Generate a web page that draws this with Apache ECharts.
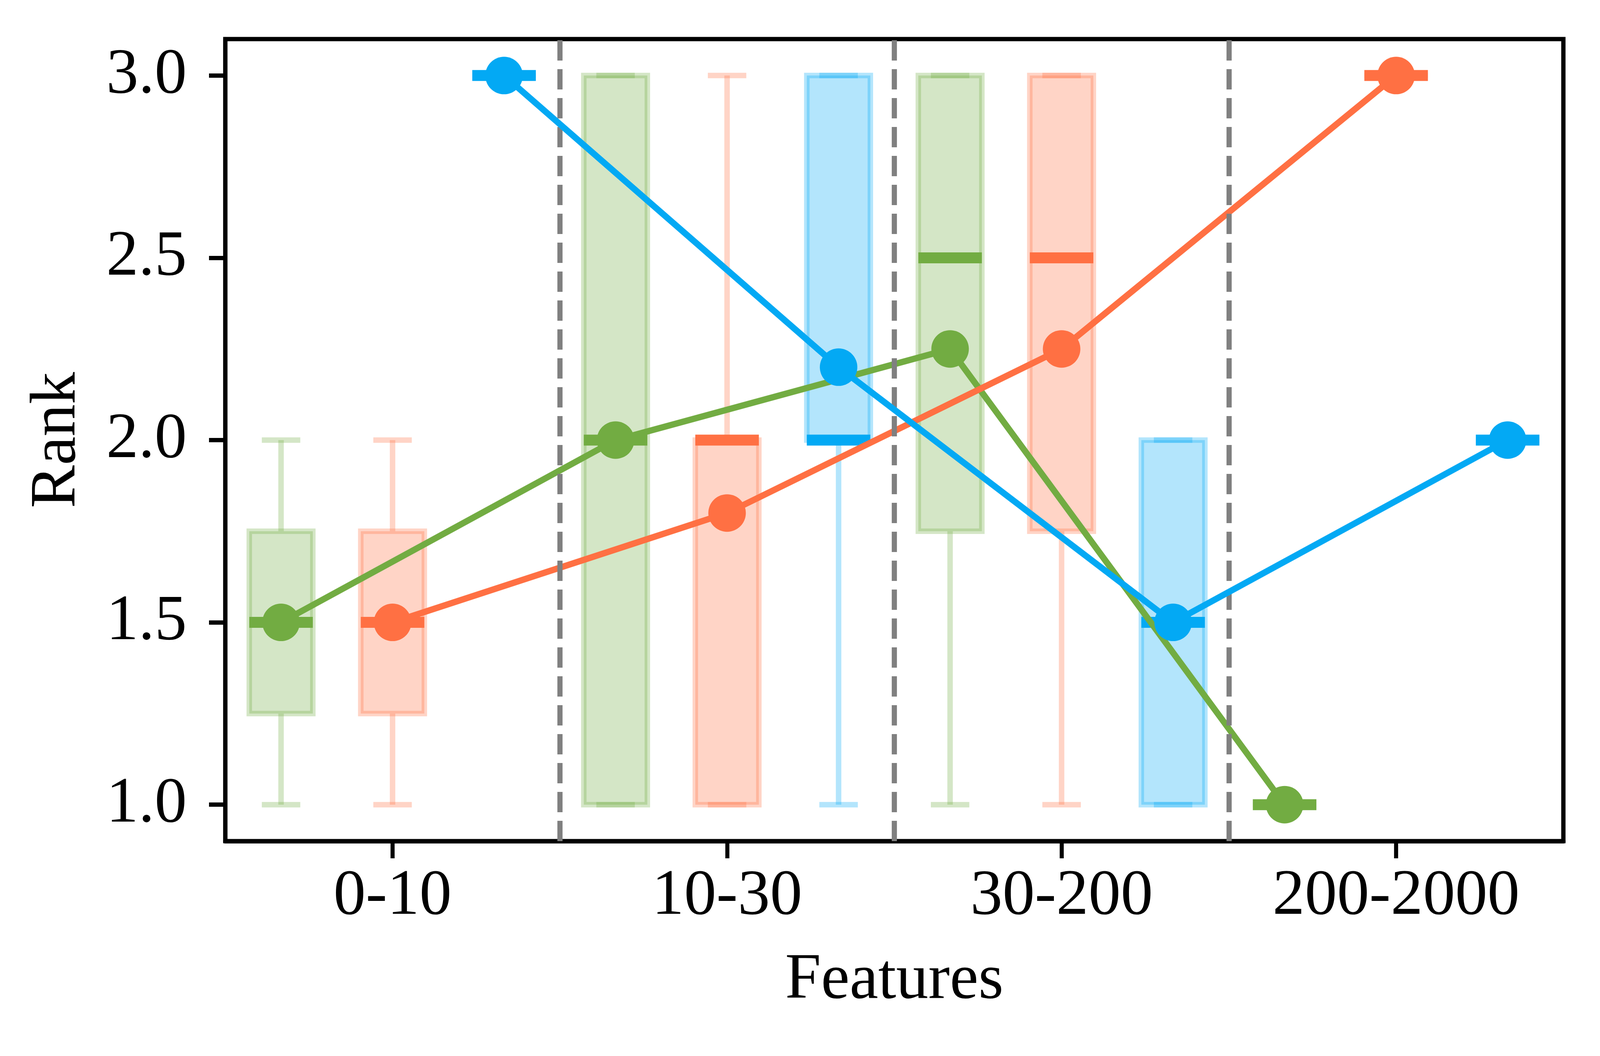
<!DOCTYPE html>
<html>
<head>
<meta charset="utf-8">
<script src="https://cdn.jsdelivr.net/npm/echarts@6/dist/echarts.min.js"></script>
<style>
html, body { margin: 0; padding: 0; background: #fff; overflow: hidden; }
#chart { width: 100vw; height: 100vh; }
</style>
</head>
<body>
<div id="chart"></div>
<script>
// 分组与刻度
const categories = ['0-10', '10-30', '30-200', '200-2000']
const yTicks = [1.0, 1.5, 2.0, 2.5, 3.0]
const separators = [0.5, 1.5, 2.5]

// 每个箱线: 下须, 下四分位, 中位数, 上四分位, 上须; 均值单独一组
const greenLow = [1, 1, 1, 1]
const greenQ1 = [1.25, 1, 1.75, 1]
const greenMedian = [1.5, 2, 2.5, 1]
const greenQ3 = [1.75, 3, 3, 1]
const greenHigh = [2, 3, 3, 1]
const greenMean = [1.5, 2.0, 2.25, 1.0]

const orangeLow = [1, 1, 1, 3]
const orangeQ1 = [1.25, 1, 1.75, 3]
const orangeMedian = [1.5, 2, 2.5, 3]
const orangeQ3 = [1.75, 2, 3, 3]
const orangeHigh = [2, 3, 3, 3]
const orangeMean = [1.5, 1.8, 2.25, 3.0]

const blueLow = [3, 1, 1, 2]
const blueQ1 = [3, 2, 1, 2]
const blueMedian = [3, 2, 1.5, 2]
const blueQ3 = [3, 3, 2, 2]
const blueHigh = [3, 3, 2, 2]
const blueMean = [3.0, 2.2, 1.5, 2.0]

const GREEN = '#72AC42'
const ORANGE = '#FF7043'
const BLUE = '#03A9F4'
const FONT = 'Liberation Serif'
const BOX_W = 0.19
const CAP_W = 0.115

// 按实际窗口尺寸缩放 (原图 4325x2703)
const el = document.getElementById('chart')
const sx = el.clientWidth / 4325
const sy = el.clientHeight / 2703
const px = v => v * sx
const py = v => v * sy

const groups = [
	{ color: GREEN, offset: -1 / 3, low: greenLow, q1: greenQ1, med: greenMedian, q3: greenQ3, high: greenHigh, mean: greenMean },
	{ color: ORANGE, offset: 0, low: orangeLow, q1: orangeQ1, med: orangeMedian, q3: orangeQ3, high: orangeHigh, mean: orangeMean },
	{ color: BLUE, offset: 1 / 3, low: blueLow, q1: blueQ1, med: blueMedian, q3: blueQ3, high: blueHigh, mean: blueMean }
]

function renderBox(color) {
	const light = echarts.color.modifyAlpha(color, 0.3)
	return (params, api) => {
		const x = api.value(0)
		const cx = api.coord([x, 1])[0]
		const yLow = api.coord([x, api.value(1)])[1]
		const yQ1 = api.coord([x, api.value(2)])[1]
		const yMed = api.coord([x, api.value(3)])[1]
		const yQ3 = api.coord([x, api.value(4)])[1]
		const yHigh = api.coord([x, api.value(5)])[1]
		const half = api.size([BOX_W, 0])[0] / 2
		const cap = api.size([CAP_W, 0])[0] / 2
		const thin = { stroke: light, lineWidth: py(14) }
		return {
			type: 'group',
			children: [
				{ type: 'line', shape: { x1: cx, y1: yLow, x2: cx, y2: yQ1 }, style: thin },
				{ type: 'line', shape: { x1: cx, y1: yQ3, x2: cx, y2: yHigh }, style: thin },
				{ type: 'line', shape: { x1: cx - cap, y1: yLow, x2: cx + cap, y2: yLow }, style: thin },
				{ type: 'line', shape: { x1: cx - cap, y1: yHigh, x2: cx + cap, y2: yHigh }, style: thin },
				{ type: 'rect', shape: { x: cx - half, y: yQ3, width: half * 2, height: yQ1 - yQ3 }, style: { fill: light, stroke: light, lineWidth: py(14) } },
				{ type: 'line', shape: { x1: cx - half, y1: yMed, x2: cx + half, y2: yMed }, style: { stroke: color, lineWidth: py(28) } }
			]
		}
	}
}

const series = []
groups.forEach(g => {
	series.push({
		type: 'custom',
		renderItem: renderBox(g.color),
		encode: { x: 0, y: [1, 2, 3, 4, 5] },
		z: 1,
		data: categories.map((c, i) => [i + g.offset, g.low[i], g.q1[i], g.med[i], g.q3[i], g.high[i]])
	})
})
groups.forEach((g, k) => {
	series.push({
		type: 'line',
		z: 3 + k,
		symbol: 'circle',
		symbolSize: py(96),
		showAllSymbol: true,
		itemStyle: { color: g.color },
		lineStyle: { color: g.color, width: py(16) },
		data: categories.map((c, i) => [i + g.offset, g.mean[i]]),
		markLine: k === 0 ? {
			silent: true,
			symbol: 'none',
			label: { show: false },
			lineStyle: { color: '#808080', width: px(14), type: [py(52), py(22)] },
			data: separators.map(v => ({ xAxis: v }))
		} : undefined
	})
})

echarts.init(el).setOption({
	animation: false,
	backgroundColor: '#fff',
	grid: {
		left: px(609),
		right: px(99),
		top: py(100),
		bottom: py(550),
		show: true,
		borderColor: '#000',
		borderWidth: py(11)
	},
	xAxis: {
		type: 'value',
		min: -0.5,
		max: 3.5,
		name: 'Features',
		nameLocation: 'middle',
		nameGap: py(275),
		nameTextStyle: { fontFamily: FONT, fontSize: py(165), color: '#000' },
		axisLine: { show: true, onZero: false, lineStyle: { color: '#000', width: py(11) } },
		axisTick: { show: true, length: py(44), lineStyle: { color: '#000', width: px(11) }, customValues: [0, 1, 2, 3] },
		axisLabel: {
			fontFamily: FONT, fontSize: py(165), color: '#000', margin: py(60),
			customValues: [0, 1, 2, 3],
			formatter: v => categories[Math.round(v)]
		},
		splitLine: { show: false }
	},
	yAxis: {
		type: 'value',
		min: 0.9,
		max: 3.1,
		name: 'Rank',
		nameLocation: 'middle',
		nameGap: px(366),
		nameTextStyle: { fontFamily: FONT, fontSize: py(165), color: '#000' },
		axisLine: { show: true, onZero: false, lineStyle: { color: '#000', width: px(11) } },
		axisTick: { show: true, length: px(44), lineStyle: { color: '#000', width: py(11) }, customValues: yTicks },
		axisLabel: {
			fontFamily: FONT, fontSize: py(165), color: '#000', margin: px(104),
			customValues: yTicks,
			formatter: v => v.toFixed(1)
		},
		splitLine: { show: false }
	},
	series: series
})
</script>
</body>
</html>
